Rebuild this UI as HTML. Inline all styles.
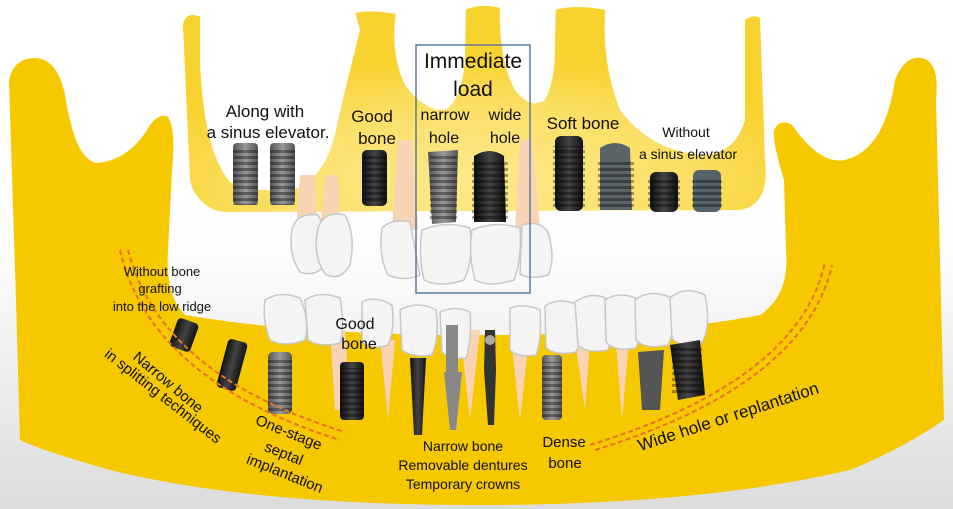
<!DOCTYPE html>
<html><head><meta charset="utf-8"><style>
html,body{margin:0;padding:0;width:953px;height:509px;overflow:hidden}
svg{display:block}
text{font-family:"Liberation Sans",sans-serif;fill:#111}
</style></head><body>
<svg width="953" height="509" viewBox="0 0 953 509" xmlns="http://www.w3.org/2000/svg">
<defs>
<linearGradient id="bg" x1="0" y1="0" x2="0" y2="1">
<stop offset="0" stop-color="#fff"/><stop offset="0.5" stop-color="#fdfdfd"/><stop offset="1" stop-color="#dcdcdc"/></linearGradient>
<radialGradient id="up" cx="0.5" cy="0.85" r="0.6">
<stop offset="0" stop-color="#fde98f"/><stop offset="0.6" stop-color="#fbdf66"/><stop offset="1" stop-color="#f8d22e"/></radialGradient>
<linearGradient id="imp" x1="0" y1="0" x2="1" y2="0">
<stop offset="0" stop-color="#555"/><stop offset="0.5" stop-color="#999"/><stop offset="1" stop-color="#555"/></linearGradient>
<linearGradient id="dk" x1="0" y1="0" x2="1" y2="0">
<stop offset="0" stop-color="#111"/><stop offset="0.5" stop-color="#444"/><stop offset="1" stop-color="#111"/></linearGradient>
<pattern id="thr" width="4" height="6" patternUnits="userSpaceOnUse"><rect width="4" height="3" fill="rgba(0,0,0,0.35)"/></pattern>
</defs>
<rect width="953" height="509" fill="url(#bg)"/>
<!-- upper maxilla -->
<path d="M183,25 Q185,12 198,16 L350,16 Q360,8 397,14 L465,10 Q480,3 500,8 L555,10 Q575,4 606,10 L745,20 Q752,14 760,18 L765,160 Q770,205 740,210 L225,212 Q190,208 190,180 Z" fill="url(#up)"/>
<g fill="#fff">
<path d="M200,0 L200,60 Q203,150 230,182 Q260,195 300,188 Q330,170 338,120 Q350,70 360,30 L352,0 Z"/>
<path d="M398,0 Q388,50 405,85 Q425,112 445,110 Q462,100 465,60 L466,0 Z"/>
<path d="M500,0 Q498,60 515,90 Q530,110 545,100 Q556,80 555,40 L556,0 Z"/>
<path d="M606,0 Q600,60 620,110 Q650,150 700,155 Q735,155 745,120 L745,0 Z"/>
<path d="M0,0 L183,0 L183,40 L190,180 Q195,205 225,214 L0,214 Z"/>
<path d="M760,0 L953,0 L953,214 L740,214 Q770,205 768,160 Z"/>
</g>
<!-- lower jaw -->
<path d="M9,82 Q12,58 36,58 Q58,60 65,95 Q75,160 97,163 Q130,160 150,125 Q160,112 168,117 Q176,130 172,170 L168,250 Q165,295 185,315 Q300,335 480,335 Q660,335 760,315 Q790,295 786,250 L784,180 Q772,140 774,130 Q780,118 792,125 Q820,165 845,160 Q885,150 895,80 Q905,55 922,58 Q940,62 936,100 L944,420 Q900,450 850,470 Q700,505 480,505 Q250,505 110,470 Q40,450 20,440 L16,300 Z" fill="#f6c800"/>
<!-- roots upper -->
<g fill="#f8d3b4">
<path d="M300,175 L315,175 L318,230 L296,230 Z"/><path d="M325,175 L338,175 L340,230 L320,230 Z"/>
<path d="M398,140 L412,140 L418,230 L392,230 Z"/><path d="M520,140 L532,140 L540,230 L515,230 Z"/>
</g>
<!-- upper teeth -->
<g fill="#f4f4f4" stroke="#c8c8c8" stroke-width="1.5">
<path d="M292,230 Q296,212 318,215 Q330,235 326,262 Q318,278 300,272 Q288,255 292,230Z"/>
<path d="M318,228 Q325,210 345,215 Q356,235 350,265 Q340,282 325,274 Q312,255 318,228Z"/>
<path d="M382,228 Q392,218 410,222 L420,275 Q405,282 388,275 Q378,255 382,228Z"/>
<path d="M422,230 Q445,220 470,228 Q474,260 464,280 Q440,288 424,280 Q418,255 422,230Z"/>
<path d="M472,230 Q495,220 520,228 Q522,260 514,280 Q490,288 475,280 Q468,255 472,230Z"/>
<path d="M522,225 Q540,220 548,232 Q556,260 548,275 Q530,280 520,274 Z"/>
</g>
<!-- upper implants -->
<rect x="233" y="143" width="25" height="62" rx="4" fill="url(#imp)"/><rect x="233" y="150" width="25" height="55" fill="url(#thr)"/>
<rect x="270" y="143" width="25" height="62" rx="4" fill="url(#imp)"/><rect x="270" y="150" width="25" height="55" fill="url(#thr)"/>
<rect x="362" y="150" width="25" height="56" rx="5" fill="url(#dk)"/><rect x="362" y="156" width="25" height="48" fill="url(#thr)"/>
<path d="M428,152 L458,150 L456,222 L432,224 Z" fill="url(#imp)"/><rect x="430" y="154" width="27" height="66" fill="url(#thr)"/>
<path d="M474,156 Q490,146 504,156 L506,222 L474,222Z" fill="url(#dk)"/><rect x="472" y="160" width="36" height="60" fill="url(#thr)"/>
<rect x="555" y="136" width="28" height="75" rx="6" fill="url(#dk)"/><rect x="553" y="146" width="32" height="62" fill="url(#thr)"/>
<path d="M600,148 Q615,138 630,148 L632,210 L600,210Z" fill="#5a6466"/><rect x="598" y="160" width="36" height="50" fill="url(#thr)"/>
<rect x="650" y="172" width="28" height="40" rx="6" fill="url(#dk)"/><rect x="648" y="178" width="32" height="32" fill="url(#thr)"/>
<rect x="693" y="170" width="28" height="42" rx="6" fill="#56646a"/><rect x="692" y="178" width="30" height="32" fill="url(#thr)"/>
<rect x="416" y="45" width="114" height="248" fill="none" stroke="#5a7a9a" stroke-width="1.5"/>
<!-- lower roots -->
<g fill="#f8d3b4">
<path d="M330,330 L345,330 L350,410 L335,410Z"/><path d="M380,340 L395,340 L388,420Z"/><path d="M460,330 L480,330 L470,420Z"/><path d="M510,330 L530,330 L520,420Z"/><path d="M575,340 L590,340 L585,410Z"/><path d="M615,330 L630,330 L622,420Z"/>
</g>
<!-- lower teeth -->
<g fill="#f4f4f4" stroke="#c8c8c8" stroke-width="1.5">
<path d="M265,300 Q280,290 300,298 Q310,320 305,340 Q285,348 270,340 Q262,320 265,300Z"/>
<path d="M305,300 Q320,290 340,298 Q345,325 340,343 Q320,348 308,340 Z"/>
<path d="M362,302 Q375,295 392,305 Q395,330 388,345 Q372,350 362,342 Z"/>
<path d="M400,310 Q418,300 436,310 Q440,335 432,355 Q412,358 402,350 Z"/>
<path d="M440,312 Q455,305 470,312 Q472,340 466,358 Q450,360 442,352 Z"/>
<path d="M510,308 Q525,303 540,310 Q542,340 536,355 Q518,358 510,350 Z"/>
<path d="M545,306 Q560,296 580,306 Q584,335 576,352 Q556,356 546,348 Z"/>
<path d="M575,302 Q592,290 610,300 Q615,330 608,350 Q588,354 578,345 Z"/>
<path d="M605,300 Q620,290 640,300 Q645,330 636,348 Q614,352 606,342 Z"/>
<path d="M635,300 Q650,288 672,298 Q676,330 668,345 Q646,350 636,340 Z"/>
<path d="M670,298 Q685,285 705,295 Q712,330 700,345 Q680,348 672,338 Z"/>
</g>
<!-- lower implants -->
<rect x="173" y="320" width="22" height="30" rx="4" fill="url(#dk)" transform="rotate(20 184 335)"/>
<rect x="222" y="340" width="20" height="50" rx="4" fill="url(#dk)" transform="rotate(15 232 365)"/>
<rect x="268" y="352" width="24" height="62" rx="5" fill="url(#imp)"/><rect x="268" y="360" width="24" height="52" fill="url(#thr)"/>
<rect x="340" y="362" width="24" height="58" rx="4" fill="url(#dk)"/><rect x="340" y="368" width="24" height="50" fill="url(#thr)"/>
<path d="M410,358 L426,358 L422,435 L414,435Z" fill="url(#dk)"/>
<path d="M446,325 L458,325 L458,372 L462,372 L456,430 L450,430 L444,372 L446,372Z" fill="#888"/>
<path d="M485,330 L495,330 L496,370 L494,425 L488,425 L484,370Z" fill="#333"/><circle cx="490" cy="340" r="5" fill="#aaa"/>
<rect x="542" y="355" width="20" height="65" rx="4" fill="url(#imp)"/><rect x="542" y="362" width="20" height="56" fill="url(#thr)"/>
<path d="M638,352 L664,350 L660,410 L642,410Z" fill="#555"/>
<path d="M670,345 L700,340 L705,395 L678,400Z" fill="url(#dk)"/><rect x="672" y="348" width="30" height="48" fill="url(#thr)"/>
<!-- dashed curves -->
<path d="M120,250 Q150,380 340,440" fill="none" stroke="#e8742a" stroke-width="2" stroke-dasharray="5,3"/>
<path d="M128,250 Q160,375 345,432" fill="none" stroke="#e8742a" stroke-width="2" stroke-dasharray="5,3"/>
<path d="M590,445 Q800,380 825,262" fill="none" stroke="#e8742a" stroke-width="2" stroke-dasharray="5,3"/>
<path d="M595,450 Q805,385 832,265" fill="none" stroke="#e8742a" stroke-width="2" stroke-dasharray="5,3"/>
<!-- labels -->
<g font-size="17" text-anchor="middle">
<text x="473" y="68" font-size="21">Immediate</text><text x="473" y="96" font-size="21">load</text>
<text x="265" y="117">Along with</text><text x="268" y="138">a sinus elevator.</text>
<text x="372" y="122">Good</text><text x="377" y="144">bone</text>
<text x="445" y="120" font-size="16">narrow</text><text x="444" y="143" font-size="16">hole</text>
<text x="505" y="120" font-size="16">wide</text><text x="505" y="143" font-size="16">hole</text>
<text x="583" y="129">Soft bone</text>
<text x="686" y="137" font-size="14">Without</text><text x="688" y="159" font-size="14">a sinus elevator</text>
<text x="162" y="276" font-size="13">Without bone</text><text x="160" y="293" font-size="13">grafting</text><text x="162" y="311" font-size="13">into the low ridge</text>
<text x="355" y="329" font-size="16">Good</text><text x="359" y="349" font-size="16">bone</text>
<text x="463" y="451" font-size="14">Narrow bone</text><text x="463" y="470" font-size="14">Removable dentures</text><text x="463" y="489" font-size="14">Temporary crowns</text>
<text x="564" y="447" font-size="15">Dense</text><text x="565" y="468" font-size="15">bone</text>
<text font-size="15" transform="translate(165,386) rotate(40)">Narrow bone</text>
<text font-size="15" transform="translate(160,400) rotate(38)">in splitting techniques</text>
<text font-size="15" transform="translate(287,437) rotate(22)">One-stage</text>
<text font-size="15" transform="translate(282,458) rotate(22)">septal</text>
<text font-size="15" transform="translate(283,478) rotate(22)">implantation</text>
<text font-size="17" transform="translate(730,422) rotate(-18)">Wide hole or replantation</text>
</g>
</svg>
</body></html>
